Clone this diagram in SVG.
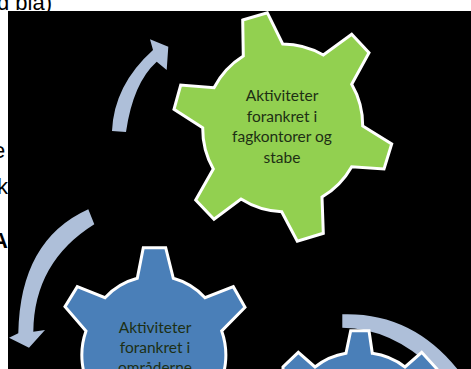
<svg xmlns="http://www.w3.org/2000/svg" width="471" height="369" viewBox="0 0 471 369">
<style>
.bg{font:22px "Liberation Sans",Arial,sans-serif;fill:#000}
.bgb{font:bold 22px "Liberation Sans",Arial,sans-serif;fill:#000}
.gear{stroke:#fff;stroke-width:3;stroke-linejoin:miter}
.lbl{font:15.5px Lato,"Noto Sans",sans-serif;text-anchor:middle;fill:#1d2f14}
.arrow{fill:#aebfd9}
</style>
<rect width="471" height="369" fill="#fff"/>
<g id="page-text">
<text class="bg" x="-3" y="10">d bla)</text>
<text class="bg" x="-7" y="158">e</text>
<text class="bg" x="-3" y="194">k</text>
<text class="bgb" x="-8" y="248">A</text>
</g>
<rect x="8" y="11" width="463" height="358" fill="#000"/>
<g id="connectors">
<path class="arrow" d="M112 131Q114 85 153 50L150 39.3 168.3 46.7 166.7 70 156.7 61.7Q133 83 126 132Z"/>
<path class="arrow" d="M88.3 209.3L94.3 224.3Q34 262 33.3 331.7L45 330 29 347.7 9 337.7 18.3 333.3Q20 240 88.3 209.3Z"/>
<path class="arrow" d="M342.3 314.3Q415 312 462 375L440 375Q395 328 342.3 327.7Z"/>
</g>
<g id="node-green">
<path class="gear" fill="#92d050" d="M242.7 20L267.3 12.7 282.7 44A82 82 0 0 1 323.3 55L351.7 34.3 369 52.7 351.7 84.3A82 82 0 0 1 362.7 126L391.7 144 384 169 351.7 166.7A82 82 0 0 1 322 197L323.3 233.3 297.3 241.3 281.7 211.7A82 82 0 0 1 241 199L214 219.3 195.7 200 213.3 169A82 82 0 0 1 202.7 127.7L174 109.3 180.7 85 214 87.7A82 82 0 0 1 243.3 56Z"/>
<text class="lbl" x="282" y="101">Aktiviteter</text>
<text class="lbl" x="282" y="122">forankret i</text>
<text class="lbl" x="282" y="142">fagkontorer og</text>
<text class="lbl" x="282" y="163">stabe</text>
</g>
<g id="node-blue-left">
<path class="gear" fill="#4a7fb8" d="M143.3 247.7L165.7 247.7 173.3 278.3A68 68 0 0 1 205 297.7L233.3 286.7 245 307.3 221.7 331A72 72 0 1 1 86 331L65 306.7 77.3 286.7 105 297.7A68 68 0 0 1 137.3 278.3Z"/>
<text class="lbl" x="155" y="333">Aktiviteter</text>
<text class="lbl" x="155" y="353">forankret i</text>
<text class="lbl" x="155" y="373">områderne</text>
</g>
<g id="node-blue-right">
<path class="gear" fill="#4a7fb8" d="M350.7 330.7L369 330.7 372.3 353.3A68 68 0 0 1 405 367L421.7 352.3 437 369 437 380 283 380 283 367 298.3 352.3 315 367A68 68 0 0 1 346 353.3Z"/>
</g>
</svg>
